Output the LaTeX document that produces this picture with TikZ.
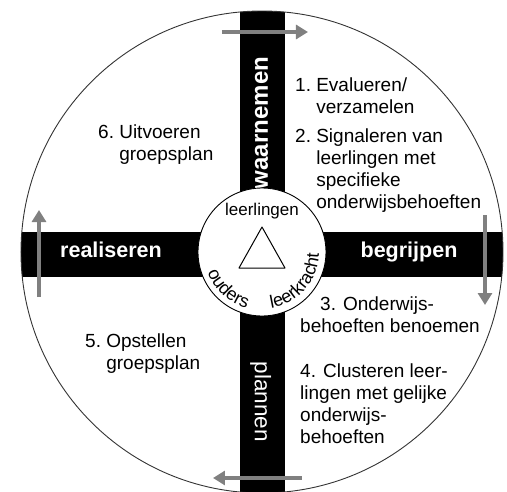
\documentclass[tikz,border=0pt]{standalone}
\usepackage{fontspec}
\setmainfont{Liberation Sans}
\usetikzlibrary{arrows.meta,decorations.text}

\begin{document}
\begin{tikzpicture}[x=1pt,y=1pt,line join=round,
	bar/.style={fill=black},
	barlabel/.style={text=white,anchor=base,inner sep=0pt,font=\fontsize{21.5}{24}\selectfont\bfseries},
	steptext/.style={anchor=base west,inner sep=0pt,font=\fontsize{19}{22}\selectfont},
	flow/.style={gray,line width=4pt,-{Triangle[width=14pt,length=12pt]}},
	hub/.style={circle,draw=black,fill=white,line width=0.9pt,minimum size=128pt,inner sep=0pt},
	role/.style={anchor=base,inner sep=0pt,font=\fontsize{17}{19}\selectfont}]
	\useasboundingbox (-262,-239) rectangle (245,252);
	% the four phases
	\begin{scope}
		\clip (0,0) circle (241);
		\fill[bar] (-22,-250) rectangle (23,250);
		\fill[bar] (-250,-25) rectangle (250,20);
	\end{scope}
	\draw[black!80,line width=0.9pt] (0,0) circle (241);
	\node[barlabel,rotate=90,font=\fontsize{24}{26}\selectfont\bfseries] (waar) at (6,129) {waarnemen};
	\node[barlabel] (real) at (-151,-5) {realiseren};
	\node[barlabel] (begr) at (147,-5) {begrijpen};
	\node[barlabel,rotate=-90,font=\fontsize{22.5}{24}\selectfont] (plan) at (-7,-150) {plannen};
	% direction of the cycle
	\coordinate (t1) at (-40,220);  \coordinate (t2) at (46,220);
	\coordinate (r1) at (223,37);   \coordinate (r2) at (223,-53);
	\coordinate (b1) at (40,-226);  \coordinate (b2) at (-49,-226);
	\coordinate (l1) at (-223,-45); \coordinate (l2) at (-223,42);
	\foreach \a/\b in {t1/t2,r1/r2,b1/b2,l1/l2}
	\draw[flow] (\a) -- (\b);
	% steps
	\node[steptext] (s1) at (33,161) {\begin{tabular}[t]{@{}l@{\ }l@{}}1.&Evalueren/\\&verzamelen\end{tabular}};
	\node[steptext] (s2) at (33,110) {\begin{tabular}[t]{@{}l@{\ }l@{}}2.&Signaleren van\\&leerlingen met\\&specifieke\\&onderwijsbehoeften\end{tabular}};
	\node[steptext] (s3) at (38,-58) {\begin{tabular}[t]{@{}l@{}}\hspace*{20pt}3. Onderwijs-\\behoeften benoemen\end{tabular}};
	\node[steptext] (s4) at (38,-125) {\begin{tabular}[t]{@{}l@{}}4. Clusteren leer-\\lingen met gelijke\\onderwijs-\\behoeften\end{tabular}};
	\node[steptext] (s5) at (-177,-95) {\begin{tabular}[t]{@{}l@{\ }l@{}}5.&Opstellen\\&groepsplan\end{tabular}};
	\node[steptext] (s6) at (-164,114) {\begin{tabular}[t]{@{}l@{\ }l@{}}6.&Uitvoeren\\&groepsplan\end{tabular}};
	% centre
	\node[hub] (hub) at (0,0) {};
	\draw[line width=1pt] (0,25) -- (-23,-16) -- (23,-16) -- cycle;
	\node[role] (lrl) at (0,37) {leerlingen};
	\path[decorate,decoration={text along path,text align=center,
		text={|\fontsize{18}{20}\selectfont|ouders}}]
		(185:58) arc[start angle=185,end angle=270,radius=58];
	\path[decorate,decoration={text along path,text align=center,
		text={|\fontsize{18}{20}\selectfont|leerkracht}}]
		(268:57) arc[start angle=268,end angle=370,radius=57];
\end{tikzpicture}
\end{document}
